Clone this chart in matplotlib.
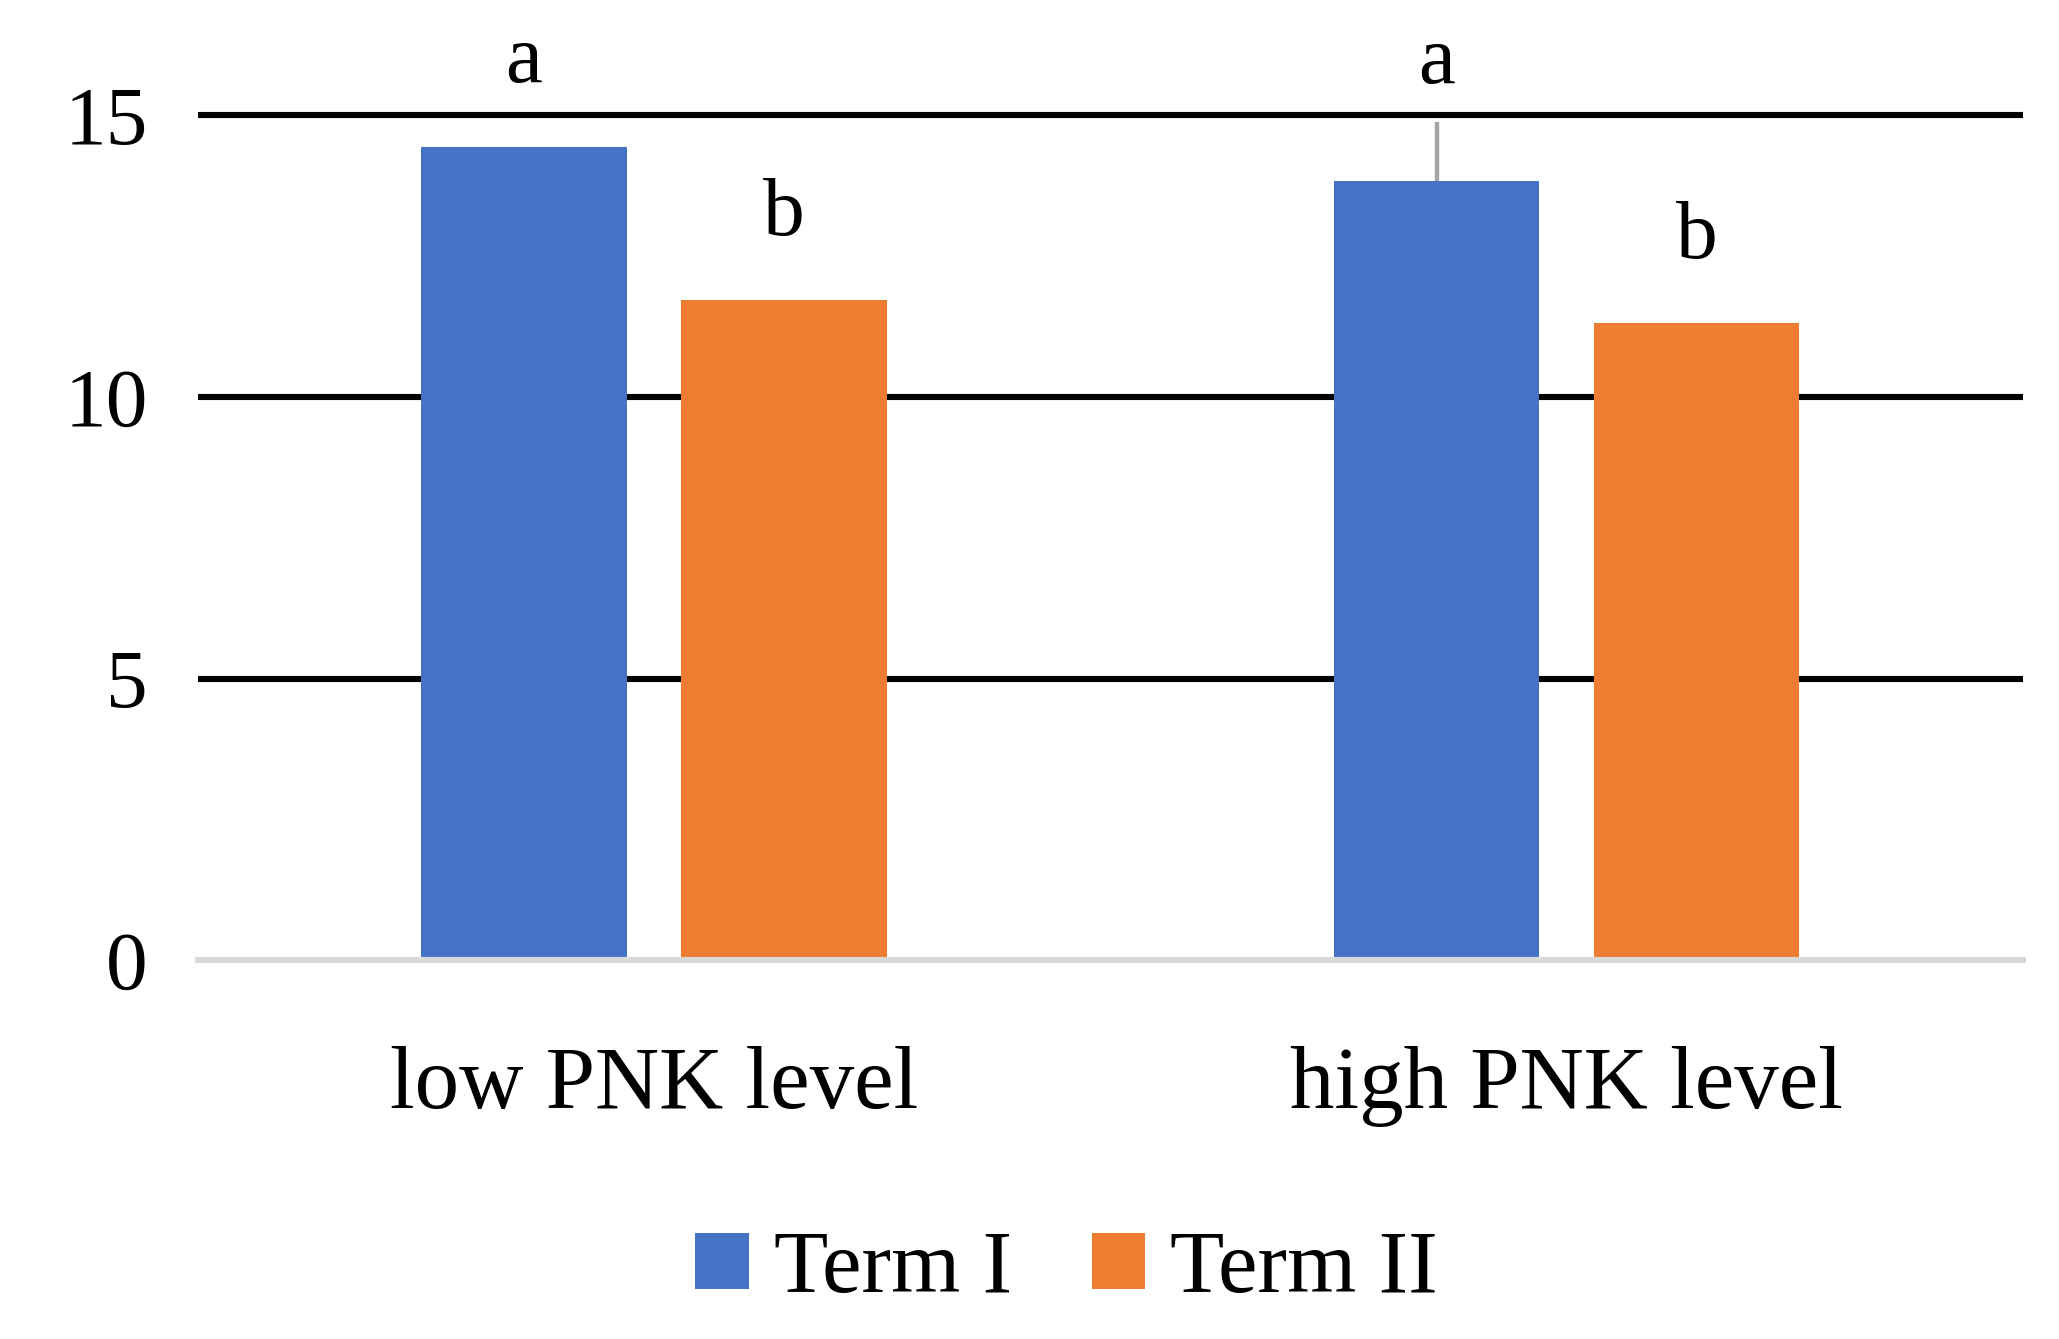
import matplotlib.pyplot as plt
import numpy as np

categories = ['low PNK level', 'high PNK level']
series = ['Term I', 'Term II']
term1 = [14.44, 13.83]
term2 = [11.73, 11.31]
term1_err = [0.0, 1.05]
letters1 = ['a', 'a']
letters2 = ['b', 'b']
yticks = [0, 5, 10, 15]

blue = '#4472C4'
orange = '#ED7D31'
font = 'Liberation Serif'

fig = plt.figure(figsize=(10.295, 6.695), dpi=200)
ax = fig.add_axes([0.096, 0.283, 0.8865, 0.717])

x = np.arange(len(categories))
w = 0.225
off = w / 2 + 0.03

ax.bar(x - off, term1, w, color=blue, label=series[0], zorder=3)
ax.bar(x + off, term2, w, color=orange, label=series[1], zorder=3)

# only the high level error bar shows above the bar
for i in range(len(x)):
    if term1_err[i] > 0:
        ax.errorbar(x[i] - off, term1[i], yerr=[[0], [term1_err[i]]], fmt='none',
                    ecolor='#A5A5A5', elinewidth=1.6, capsize=0, zorder=2)

# significance letters
for i in range(len(x)):
    ax.text(x[i] - off, term1[i] + term1_err[i] + (1.5 if term1_err[i] == 0 else 1.05), letters1[i],
            ha='center', va='center', fontsize=30, family=font)
    ax.text(x[i] + off, term2[i] + 1.5, letters2[i],
            ha='center', va='center', fontsize=30, family=font)

ax.set_xlim(-0.5, 1.5)
ax.set_ylim(0, 17.05)
ax.set_yticks(yticks)
ax.set_xticks(x)
ax.set_xticklabels(categories, fontsize=32, family=font)
ax.set_yticklabels([str(t) for t in yticks], fontsize=30, family=font)
ax.tick_params(axis='both', length=0)
ax.tick_params(axis='y', pad=18)
ax.tick_params(axis='x', pad=31)

ax.grid(axis='y', color='black', linewidth=2.2, zorder=1)
ax.set_axisbelow(True)
for s in ['top', 'right', 'left']:
    ax.spines[s].set_visible(False)
ax.spines['bottom'].set_color('#D9D9D9')
ax.spines['bottom'].set_linewidth(2.2)
ax.spines['bottom'].set_zorder(4)

# hide the grid line at 0 under the gray axis
gl = ax.yaxis.get_gridlines()
gl[0].set_visible(False)

fig.legend(loc='center', bbox_to_anchor=(0.518, 0.051), ncol=2, frameon=False,
           prop={'family': font, 'size': 32}, handlelength=0.6, handleheight=0.6,
           handletextpad=0.28, columnspacing=0.9)

fig.savefig('out.png', dpi=200)
